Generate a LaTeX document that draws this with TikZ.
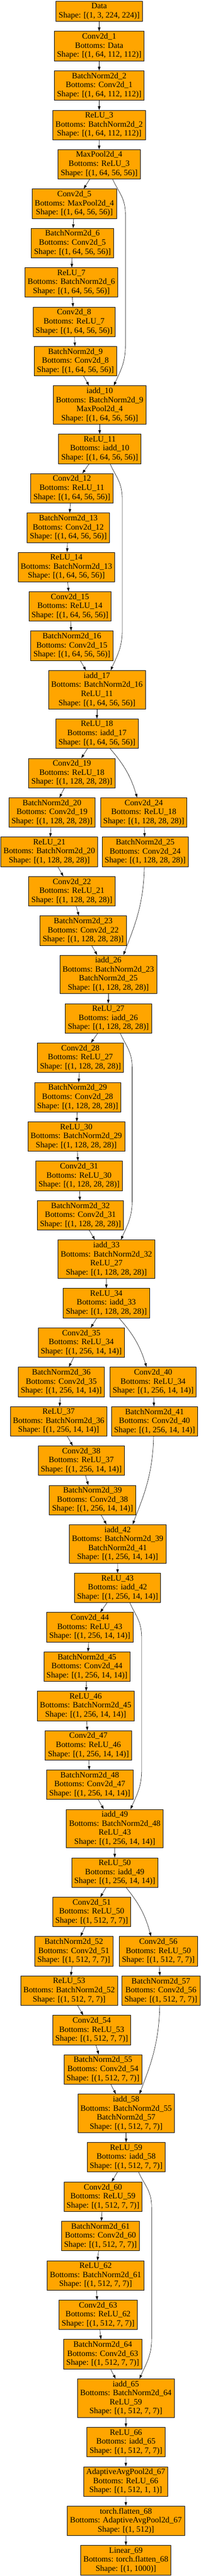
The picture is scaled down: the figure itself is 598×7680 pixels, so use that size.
\documentclass[tikz,border=0pt]{standalone}
\usepackage{fontspec}
\setmainfont{Liberation Serif}
\usetikzlibrary{arrows.meta}
\definecolor{gvorange}{HTML}{FFA500}
\tikzset{
  layer/.style={draw=black,line width=1pt,fill=gvorange,align=center,inner xsep=8pt,inner ysep=2pt,minimum height=88pt,font=\fontsize{24.4pt}{27pt}\selectfont},
  twoline/.style={minimum height=61pt},
  fourline/.style={minimum height=115pt},
  link/.style={-{Triangle[length=11pt,width=7.5pt]},line width=.9pt}
}
\begin{document}
\begin{tikzpicture}[x=1pt,y=-1pt]% ResNet-18
\fill[white] (0,0) rectangle (598,7680);
\useasboundingbox (0,0) rectangle (598,7680);
\node[layer,twoline] (data) at (295.6,33.7) {Data\\Shape: [(1, 3, 224, 224)]};
\node[layer] (conv1) at (295.6,137.4) {Conv2d\_1\\Bottoms: Data\\Shape: [(1, 64, 112, 112)]};
\node[layer] (bn2) at (295.6,254.7) {BatchNorm2d\_2\\Bottoms: Conv2d\_1\\Shape: [(1, 64, 112, 112)]};
\node[layer] (relu3) at (295.6,372.5) {ReLU\_3\\Bottoms: BatchNorm2d\_2\\Shape: [(1, 64, 112, 112)]};
\node[layer] (pool4) at (295.4,489.6) {MaxPool2d\_4\\Bottoms: ReLU\_3\\Shape: [(1, 64, 56, 56)]};
\node[layer] (conv5) at (221.6,607.2) {Conv2d\_5\\Bottoms: MaxPool2d\_4\\Shape: [(1, 64, 56, 56)]};
\node[layer] (bn6) at (215.9,724.5) {BatchNorm2d\_6\\Bottoms: Conv2d\_5\\Shape: [(1, 64, 56, 56)]};
\node[layer] (relu7) at (212.6,841.9) {ReLU\_7\\Bottoms: BatchNorm2d\_6\\Shape: [(1, 64, 56, 56)]};
\node[layer] (conv8) at (220.8,959.4) {Conv2d\_8\\Bottoms: ReLU\_7\\Shape: [(1, 64, 56, 56)]};
\node[layer] (bn9) at (224.7,1076.6) {BatchNorm2d\_9\\Bottoms: Conv2d\_8\\Shape: [(1, 64, 56, 56)]};
\node[layer,fourline] (add10) at (297.1,1207.4) {iadd\_10\\Bottoms: BatchNorm2d\_9\\MaxPool2d\_4\\Shape: [(1, 64, 56, 56)]};
\node[layer] (relu11) at (297.1,1338.2) {ReLU\_11\\Bottoms: iadd\_10\\Shape: [(1, 64, 56, 56)]};
\node[layer] (conv12) at (214.2,1455.7) {Conv2d\_12\\Bottoms: ReLU\_11\\Shape: [(1, 64, 56, 56)]};
\node[layer] (bn13) at (203.5,1573.3) {BatchNorm2d\_13\\Bottoms: Conv2d\_12\\Shape: [(1, 64, 56, 56)]};
\node[layer] (relu14) at (197.8,1690.4) {ReLU\_14\\Bottoms: BatchNorm2d\_13\\Shape: [(1, 64, 56, 56)]};
\node[layer] (conv15) at (208.4,1808) {Conv2d\_15\\Bottoms: ReLU\_14\\Shape: [(1, 64, 56, 56)]};
\node[layer] (bn16) at (214.2,1925.1) {BatchNorm2d\_16\\Bottoms: Conv2d\_15\\Shape: [(1, 64, 56, 56)]};
\node[layer,fourline] (add17) at (288.9,2056.4) {iadd\_17\\Bottoms: BatchNorm2d\_16\\ReLU\_11\\Shape: [(1, 64, 56, 56)]};
\node[layer] (relu18) at (288.9,2187.2) {ReLU\_18\\Bottoms: iadd\_17\\Shape: [(1, 64, 56, 56)]};
\node[layer] (conv19) at (214.2,2304.7) {Conv2d\_19\\Bottoms: ReLU\_18\\Shape: [(1, 128, 28, 28)]};
\node[layer] (bn20) at (154.9,2422.3) {BatchNorm2d\_20\\Bottoms: Conv2d\_19\\Shape: [(1, 128, 28, 28)]};
\node[layer] (conv24) at (428.5,2422.3) {Conv2d\_24\\Bottoms: ReLU\_18\\Shape: [(1, 128, 28, 28)]};
\node[layer] (relu21) at (146.9,2539.6) {ReLU\_21\\Bottoms: BatchNorm2d\_20\\Shape: [(1, 128, 28, 28)]};
\node[layer] (bn25) at (432.7,2539.6) {BatchNorm2d\_25\\Bottoms: Conv2d\_24\\Shape: [(1, 128, 28, 28)]};
\node[layer] (conv22) at (214.2,2656.9) {Conv2d\_22\\Bottoms: ReLU\_21\\Shape: [(1, 128, 28, 28)]};
\node[layer] (bn23) at (247.9,2774.5) {BatchNorm2d\_23\\Bottoms: Conv2d\_22\\Shape: [(1, 128, 28, 28)]};
\node[layer,fourline] (add26) at (322.7,2905.1) {iadd\_26\\Bottoms: BatchNorm2d\_23\\BatchNorm2d\_25\\Shape: [(1, 128, 28, 28)]};
\node[layer] (relu27) at (322.7,3036.1) {ReLU\_27\\Bottoms: iadd\_26\\Shape: [(1, 128, 28, 28)]};
\node[layer] (conv28) at (239.7,3153.2) {Conv2d\_28\\Bottoms: ReLU\_27\\Shape: [(1, 128, 28, 28)]};
\node[layer] (bn29) at (231.3,3271.2) {BatchNorm2d\_29\\Bottoms: Conv2d\_28\\Shape: [(1, 128, 28, 28)]};
\node[layer] (relu30) at (227.3,3388.4) {ReLU\_30\\Bottoms: BatchNorm2d\_29\\Shape: [(1, 128, 28, 28)]};
\node[layer] (conv31) at (235.5,3505.5) {Conv2d\_31\\Bottoms: ReLU\_30\\Shape: [(1, 128, 28, 28)]};
\node[layer] (bn32) at (239.7,3623.3) {BatchNorm2d\_32\\Bottoms: Conv2d\_31\\Shape: [(1, 128, 28, 28)]};
\node[layer,fourline] (add33) at (317.1,3754.1) {iadd\_33\\Bottoms: BatchNorm2d\_32\\ReLU\_27\\Shape: [(1, 128, 28, 28)]};
\node[layer] (relu34) at (316.9,3885.1) {ReLU\_34\\Bottoms: iadd\_33\\Shape: [(1, 128, 28, 28)]};
\node[layer] (conv35) at (242.2,4002.5) {Conv2d\_35\\Bottoms: ReLU\_34\\Shape: [(1, 256, 14, 14)]};
\node[layer] (bn36) at (182.7,4119.8) {BatchNorm2d\_36\\Bottoms: Conv2d\_35\\Shape: [(1, 256, 14, 14)]};
\node[layer] (conv40) at (456.3,4119.8) {Conv2d\_40\\Bottoms: ReLU\_34\\Shape: [(1, 256, 14, 14)]};
\node[layer] (relu37) at (174.7,4237.4) {ReLU\_37\\Bottoms: BatchNorm2d\_36\\Shape: [(1, 256, 14, 14)]};
\node[layer] (bn41) at (460.5,4237.4) {BatchNorm2d\_41\\Bottoms: Conv2d\_40\\Shape: [(1, 256, 14, 14)]};
\node[layer] (conv38) at (242.2,4354.5) {Conv2d\_38\\Bottoms: ReLU\_37\\Shape: [(1, 256, 14, 14)]};
\node[layer] (bn39) at (275.8,4472.1) {BatchNorm2d\_39\\Bottoms: Conv2d\_38\\Shape: [(1, 256, 14, 14)]};
\node[layer,fourline] (add42) at (350.5,4602.7) {iadd\_42\\Bottoms: BatchNorm2d\_39\\BatchNorm2d\_41\\Shape: [(1, 256, 14, 14)]};
\node[layer] (relu43) at (350.3,4734.1) {ReLU\_43\\Bottoms: iadd\_42\\Shape: [(1, 256, 14, 14)]};
\node[layer] (conv44) at (267.5,4851.2) {Conv2d\_44\\Bottoms: ReLU\_43\\Shape: [(1, 256, 14, 14)]};
\node[layer] (bn45) at (259.2,4968.8) {BatchNorm2d\_45\\Bottoms: Conv2d\_44\\Shape: [(1, 256, 14, 14)]};
\node[layer] (relu46) at (255.2,5086.1) {ReLU\_46\\Bottoms: BatchNorm2d\_45\\Shape: [(1, 256, 14, 14)]};
\node[layer] (conv47) at (263.5,5203.5) {Conv2d\_47\\Bottoms: ReLU\_46\\Shape: [(1, 256, 14, 14)]};
\node[layer] (bn48) at (267.5,5320.8) {BatchNorm2d\_48\\Bottoms: Conv2d\_47\\Shape: [(1, 256, 14, 14)]};
\node[layer,fourline] (add49) at (342.1,5451.7) {iadd\_49\\Bottoms: BatchNorm2d\_48\\ReLU\_43\\Shape: [(1, 256, 14, 14)]};
\node[layer] (relu50) at (341.9,5582.7) {ReLU\_50\\Bottoms: iadd\_49\\Shape: [(1, 256, 14, 14)]};
\node[layer] (conv51) at (273.3,5700.2) {Conv2d\_51\\Bottoms: ReLU\_50\\Shape: [(1, 512, 7, 7)]};
\node[layer] (bn52) at (219.9,5817.4) {BatchNorm2d\_52\\Bottoms: Conv2d\_51\\Shape: [(1, 512, 7, 7)]};
\node[layer] (conv56) at (471.8,5817.4) {Conv2d\_56\\Bottoms: ReLU\_50\\Shape: [(1, 512, 7, 7)]};
\node[layer] (relu53) at (206,5934.9) {ReLU\_53\\Bottoms: BatchNorm2d\_52\\Shape: [(1, 512, 7, 7)]};
\node[layer] (bn57) at (479.4,5934.9) {BatchNorm2d\_57\\Bottoms: Conv2d\_56\\Shape: [(1, 512, 7, 7)]};
\node[layer] (conv54) at (273.3,6052.3) {Conv2d\_54\\Bottoms: ReLU\_53\\Shape: [(1, 512, 7, 7)]};
\node[layer] (bn55) at (306.8,6169.6) {BatchNorm2d\_55\\Bottoms: Conv2d\_54\\Shape: [(1, 512, 7, 7)]};
\node[layer,fourline] (add58) at (375.9,6300.9) {iadd\_58\\Bottoms: BatchNorm2d\_55\\BatchNorm2d\_57\\Shape: [(1, 512, 7, 7)]};
\node[layer] (relu59) at (375.9,6431.3) {ReLU\_59\\Bottoms: iadd\_58\\Shape: [(1, 512, 7, 7)]};
\node[layer] (conv60) at (306.8,6549.2) {Conv2d\_60\\Bottoms: ReLU\_59\\Shape: [(1, 512, 7, 7)]};
\node[layer] (bn61) at (299.4,6666.3) {BatchNorm2d\_61\\Bottoms: Conv2d\_60\\Shape: [(1, 512, 7, 7)]};
\node[layer] (relu62) at (284.9,6783.9) {ReLU\_62\\Bottoms: BatchNorm2d\_61\\Shape: [(1, 512, 7, 7)]};
\node[layer] (conv63) at (292.3,6901.4) {Conv2d\_63\\Bottoms: ReLU\_62\\Shape: [(1, 512, 7, 7)]};
\node[layer] (bn64) at (306.1,7018.6) {BatchNorm2d\_64\\Bottoms: Conv2d\_63\\Shape: [(1, 512, 7, 7)]};
\node[layer,fourline] (add65) at (375.1,7149.6) {iadd\_65\\Bottoms: BatchNorm2d\_64\\ReLU\_59\\Shape: [(1, 512, 7, 7)]};
\node[layer] (relu66) at (375.3,7280.6) {ReLU\_66\\Bottoms: iadd\_65\\Shape: [(1, 512, 7, 7)]};
\node[layer] (pool67) at (374.7,7398.2) {AdaptiveAvgPool2d\_67\\Bottoms: ReLU\_66\\Shape: [(1, 512, 1, 1)]};
\node[layer] (flat68) at (375.3,7515.3) {torch.flatten\_68\\Bottoms: AdaptiveAvgPool2d\_67\\Shape: [(1, 512)]};
\node[layer] (fc69) at (375.1,7632.9) {Linear\_69\\Bottoms: torch.flatten\_68\\Shape: [(1, 1000)]};
\foreach \a/\b in {data/conv1,conv1/bn2,bn2/relu3,relu3/pool4,pool4/conv5,conv5/bn6,bn6/relu7,relu7/conv8,conv8/bn9,bn9/add10,
  add10/relu11,relu11/conv12,conv12/bn13,bn13/relu14,relu14/conv15,conv15/bn16,bn16/add17,add17/relu18,relu18/conv19,
  conv19/bn20,bn20/relu21,relu21/conv22,conv22/bn23,bn23/add26,conv24/bn25,add26/relu27,relu27/conv28,conv28/bn29,
  bn29/relu30,relu30/conv31,conv31/bn32,bn32/add33,add33/relu34,relu34/conv35,conv35/bn36,bn36/relu37,relu37/conv38,
  conv38/bn39,bn39/add42,conv40/bn41,add42/relu43,relu43/conv44,conv44/bn45,bn45/relu46,relu46/conv47,conv47/bn48,
  bn48/add49,add49/relu50,relu50/conv51,conv51/bn52,bn52/relu53,relu53/conv54,conv54/bn55,bn55/add58,conv56/bn57,
  add58/relu59,relu59/conv60,conv60/bn61,bn61/relu62,relu62/conv63,conv63/bn64,bn64/add65,add65/relu66,relu66/pool67,
  pool67/flat68,flat68/fc69}
  \draw[link] (\a) -- (\b);
\foreach \s/\t/\xs/\xt/\dx in {pool4/add10/40.2/42.3/38.1,relu11/add17/30.9/41/36.2,relu27/add33/35.8/43.3/35.5,
  relu43/add49/36.8/46.9/35.1,relu59/add65/37.1/40.6/38.9}
  \draw[link] ([xshift=\xs]\s.south) .. controls +(18,40) and +(0,-50) .. ++(\dx,105) -- ++(0,392)
    .. controls +(0,50) and +(20,-45) .. ([xshift=\xt]\t.north);
\foreach \s/\t/\xs/\xt in {relu18/conv24/39.1/-19.7,relu34/conv40/37.8/-19.6,relu50/conv56/33.8/-21.8}
  \draw[link] ([xshift=\xs]\s.south) to[bend left=12] ([xshift=\xt]\t.north);
\foreach \s/\t/\xs/\xt in {bn25/add26/-2.5/45.3,bn41/add42/-2.8/45,bn57/add58/-3.4/39.8}
  \draw[link] ([xshift=\xs]\s.south) .. controls +(-2,120) and +(28,-75) .. ([xshift=\xt]\t.north);
\end{tikzpicture}
\end{document}
